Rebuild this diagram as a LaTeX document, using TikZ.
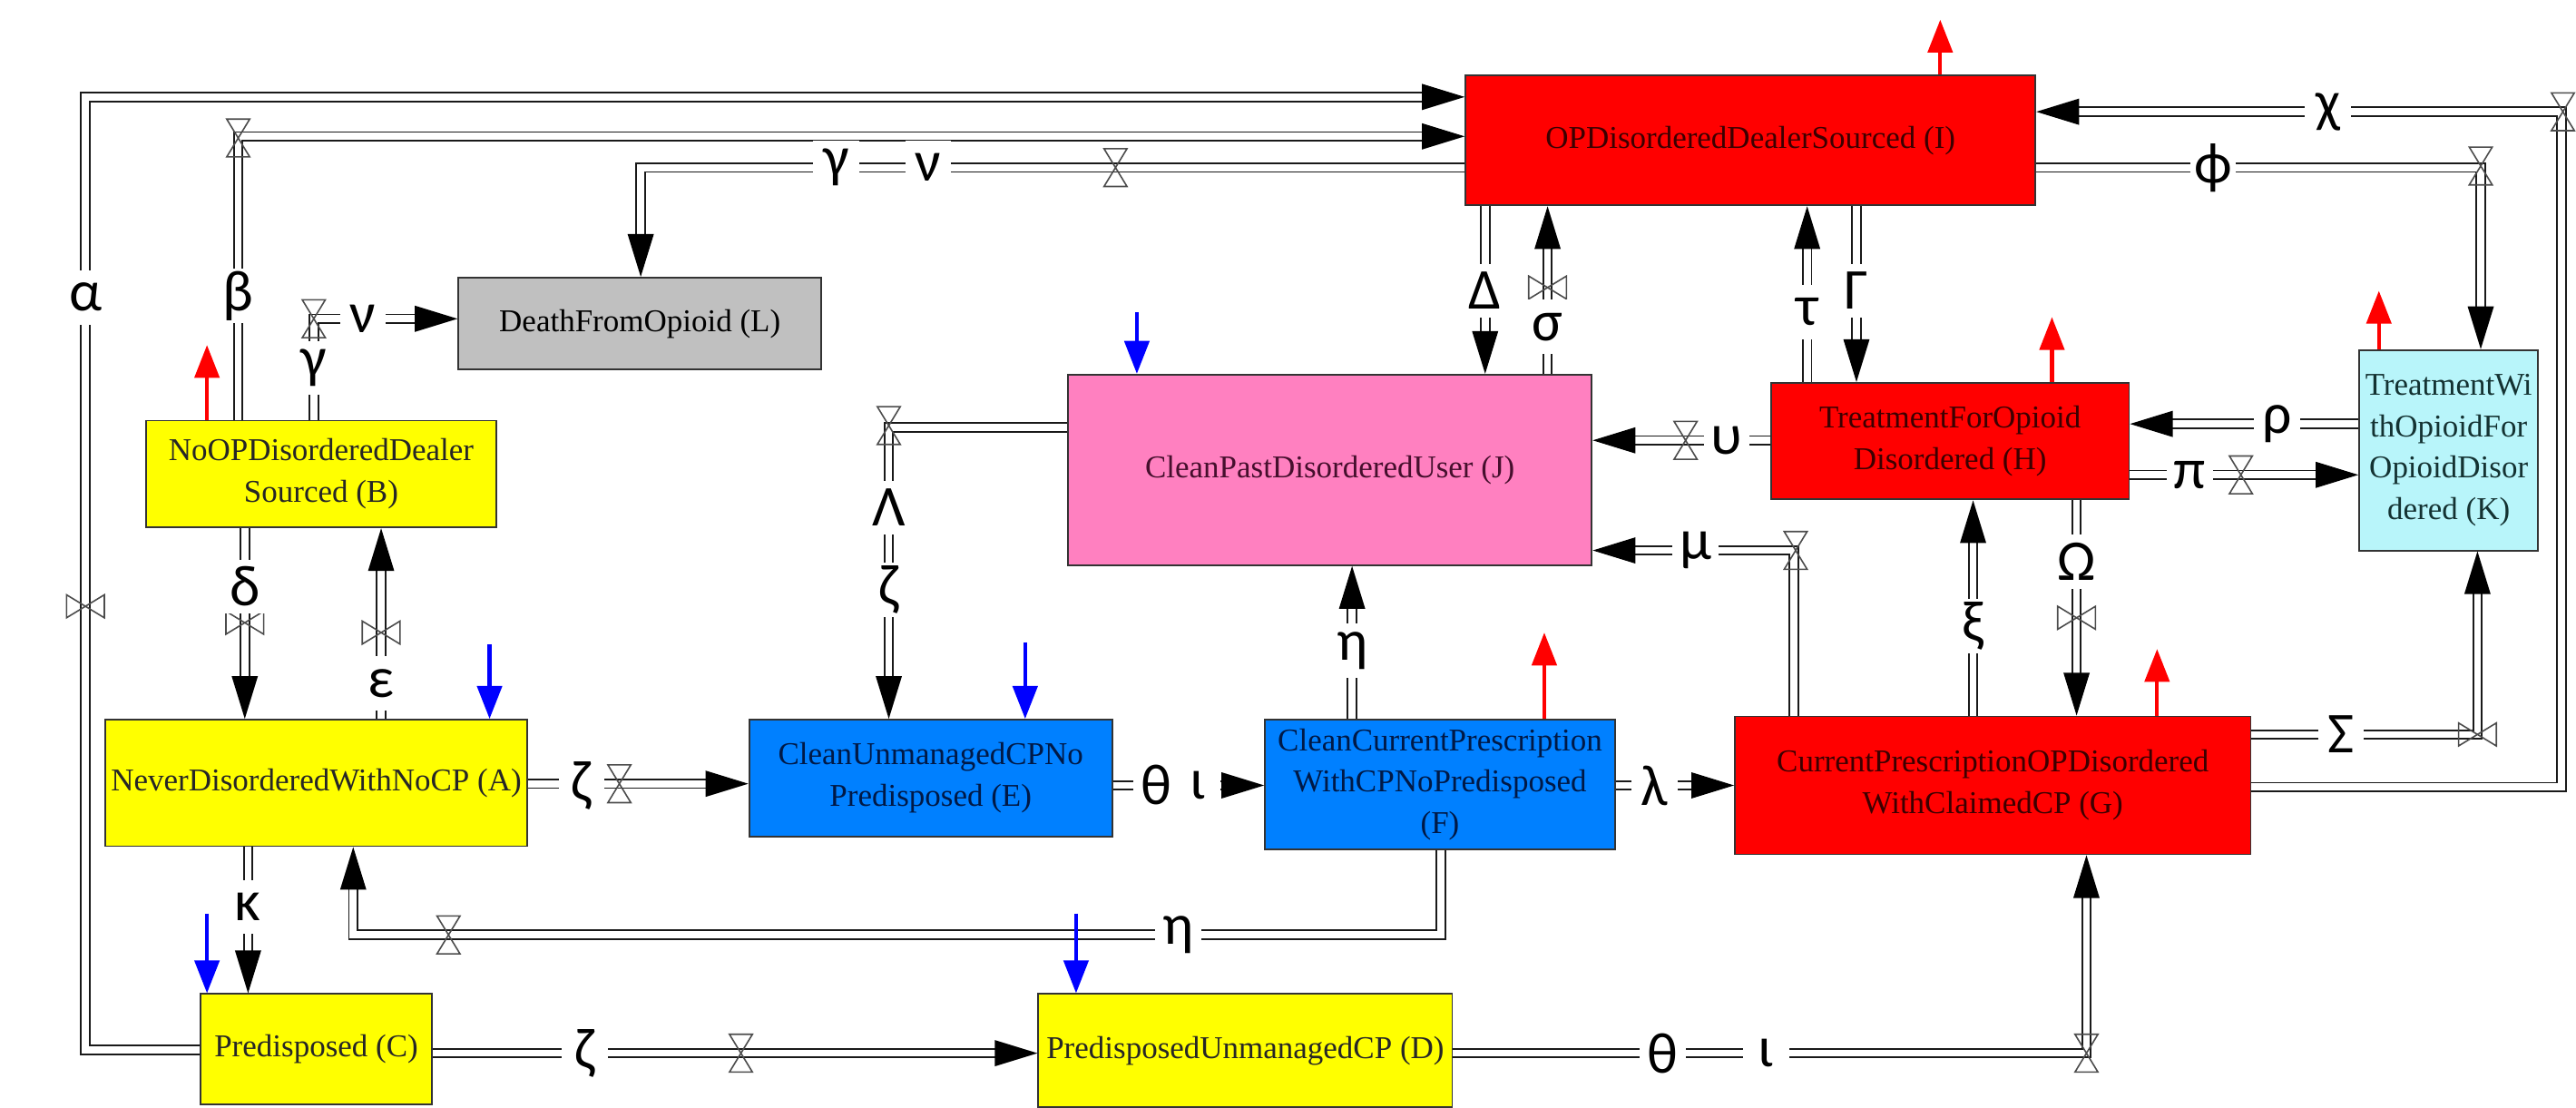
\documentclass[tikz,border=0pt]{standalone}
\usepackage{fontspec}
\setmainfont{Liberation Serif}
\newfontfamily\grk{Carlito}
\usetikzlibrary{arrows.meta,decorations.markings}
\definecolor{cred}{RGB}{255,0,0}
\definecolor{cyel}{RGB}{255,255,0}
\definecolor{cgray}{RGB}{192,192,192}
\definecolor{cpink}{RGB}{255,128,192}
\definecolor{cblue}{RGB}{0,128,255}
\definecolor{ccyan}{RGB}{184,245,250}
\definecolor{tred}{RGB}{60,0,0}
\definecolor{tblue}{RGB}{0,25,70}
\definecolor{tpink}{RGB}{70,15,45}
\definecolor{tcyan}{RGB}{20,50,50}
\begin{document}
\begin{tikzpicture}[x=0.02cm,y=-0.02cm,
  stock/.style={draw=black!80, line width=0.6pt, inner sep=1pt, align=center,
    font=\fontsize{11}{14.4}\selectfont},
  pipe/.style={draw=black!90, line width=0.6pt, double=white, double distance=0.085cm, line join=miter},
  flow/.style={pipe, shorten >=0.5cm, postaction={decorate},
    decoration={markings, mark=at position 1 with {\fill[black] (0pt,0pt) -- (-0.52cm,0.16cm) -- (-0.52cm,-0.16cm) -- cycle;}}},
  lbl/.style={fill=white, inner sep=0pt, minimum width=0.56cm, minimum height=0.66cm,
    font=\grk\fontsize{20}{20}\selectfont},
  valvest/.style={draw=black!70, line width=0.5pt},
  valveH/.pic={\draw[valvest] (-7,-11.5) -- (7,-11.5) -- (-7,11.5) -- (7,11.5) -- cycle;},
  valveV/.pic={\draw[valvest] (-11.5,-7) -- (-11.5,7) -- (11.5,-7) -- (11.5,7) -- cycle;},
  outarr/.style={draw=red, line width=1.3pt, -{Triangle[length=0.4cm,width=0.3cm]}},
  inarr/.style={draw=blue, line width=1.3pt, -{Triangle[length=0.4cm,width=0.3cm]}}
]
\useasboundingbox (0,0) rectangle (1568,674);

% ---------------- stocks ----------------
\node[stock, fill=cred, text=tred, minimum width=6.94cm, minimum height=1.58cm] (I) at (1065.5,85.5) {OPDisorderedDealerSourced (I)};
\node[stock, fill=cgray, text=black, minimum width=4.42cm, minimum height=1.12cm] (L) at (389.5,197) {DeathFromOpioid (L)};
\node[stock, fill=cyel, text=black!85, minimum width=4.26cm, minimum height=1.30cm] (B) at (195.5,288.5) {NoOPDisorderedDealer\\Sourced (B)};
\node[stock, fill=cpink, text=tpink, minimum width=6.38cm, minimum height=2.32cm] (J) at (809.5,286) {CleanPastDisorderedUser (J)};
\node[stock, fill=cred, text=tred, minimum width=4.36cm, minimum height=1.42cm] (H) at (1187,268.5) {TreatmentForOpioid\\Disordered (H)};
\node[stock, fill=ccyan, text=tcyan, minimum width=2.18cm, minimum height=2.44cm] (K) at (1490.5,274) {TreatmentWi\\thOpioidFor\\OpioidDisor\\dered (K)};
\node[stock, fill=cyel, text=black!85, minimum width=5.14cm, minimum height=1.54cm] (A) at (192.5,476.5) {NeverDisorderedWithNoCP (A)};
\node[stock, fill=cblue, text=tblue, minimum width=4.42cm, minimum height=1.42cm] (E) at (566.5,473.5) {CleanUnmanagedCPNo\\Predisposed (E)};
\node[stock, fill=cblue, text=tblue, minimum width=4.26cm, minimum height=1.58cm] (F) at (876.5,477.5) {CleanCurrentPrescription\\WithCPNoPredisposed\\(F)};
\node[stock, fill=cred, text=tred, minimum width=6.28cm, minimum height=1.68cm] (G) at (1213,478) {CurrentPrescriptionOPDisordered\\WithClaimedCP (G)};
\node[stock, fill=cyel, text=black!85, minimum width=2.82cm, minimum height=1.34cm] (C) at (192.5,638.5) {Predisposed (C)};
\node[stock, fill=cyel, text=black!85, minimum width=5.04cm, minimum height=1.38cm] (D) at (758,639.5) {PredisposedUnmanagedCP (D)};

% ---------------- flows ----------------
\draw[flow] (C.west |- 0,639) -- (52,639) -- (52,59) -- (I.west |- 0,59);          % alpha
\draw[flow] (B.north -| 145,0) -- (145,83) -- (I.west |- 0,83);                    % beta
\draw[flow] (I.west |- 0,102) -- (390,102) -- (L.north -| 390,0);                  % gamma nu
\draw[flow] (B.north -| 191,0) -- (191,194) -- (L.west |- 0,194);                  % gamma nu small
\draw[flow] (B.south -| 149,0) -- (A.north -| 149,0);                              % delta
\draw[flow] (A.north -| 232,0) -- (B.south -| 232,0);                              % epsilon
\draw[flow] (A.south -| 151,0) -- (C.north -| 151,0);                              % kappa
\draw[flow] (F.south -| 877,0) -- (877,569) -- (215,569) -- (A.south -| 215,0);    % eta F->A
\draw[flow] (A.east |- 0,477) -- (E.west |- 0,477);                                % zeta A->E
\draw[flow] (E.east |- 0,478) -- (F.west |- 0,478);                                % theta iota
\draw[flow] (F.east |- 0,478) -- (G.west |- 0,478);                                % lambda
\draw[flow] (F.north -| 823,0) -- (J.south -| 823,0);                              % eta F->J
\draw[flow] (C.east |- 0,641) -- (D.west |- 0,641);                                % zeta C->D
\draw[flow] (D.east |- 0,641) -- (1270,641) -- (G.south -| 1270,0);                % theta iota D->G
\draw[flow] (J.west |- 0,260) -- (541,260) -- (E.north -| 541,0);                  % Lambda zeta
\draw[flow] (I.south -| 904,0) -- (J.north -| 904,0);                              % Delta
\draw[flow] (J.north -| 942,0) -- (I.south -| 942,0);                              % sigma
\draw[flow] (H.north -| 1100,0) -- (I.south -| 1100,0);                            % tau
\draw[flow] (I.south -| 1130,0) -- (H.north -| 1130,0);                            % Gamma
\draw[flow] (H.west |- 0,268) -- (J.east |- 0,268);                                % upsilon
\draw[flow] (G.north -| 1092,0) -- (1092,335) -- (J.east |- 0,335);                % mu
\draw[flow] (G.north -| 1201,0) -- (H.south -| 1201,0);                            % xi
\draw[flow] (H.south -| 1264,0) -- (G.north -| 1264,0);                            % Omega
\draw[flow] (K.west |- 0,258) -- (H.east |- 0,258);                                % rho
\draw[flow] (H.east |- 0,289) -- (K.west |- 0,289);                                % pi
\draw[flow] (G.east |- 0,447) -- (1508,447) -- (K.south -| 1508,0);                % Sigma
\draw[flow] (I.east |- 0,102) -- (1510,102) -- (K.north -| 1510,0);                % phi
\draw[flow] (G.east |- 0,479) -- (1559,479) -- (1559,68) -- (I.east |- 0,68);      % chi

% ---------------- valves ----------------
\foreach \p in {(52,369),(149,379),(232,385),(942,175),(1264,376),(1508,447)}
  \pic at \p {valveV};
\foreach \p in {(145,84),(679,102),(191,194),(377,477),(273,569),(451,641),(1270,641),(541,259),(1026,268),(1093,335),(1364,289),(1510,101),(1560,68)}
  \pic at \p {valveH};

% ---------------- labels ----------------
\node[lbl] (lalpha) at (52,181) {α};
\node[lbl] (lbeta) at (145,180) {β};
\node[lbl] (lgamma1) at (509,102) {γ};
\node[lbl] (lnu1) at (565,102) {ν};
\node[lbl] (lgamma2) at (191,224) {γ};
\node[lbl] (lnu2) at (221,194) {ν};
\node[lbl] (ldelta) at (149,357) {δ};
\node[lbl] (leps) at (232,416) {ε};
\node[lbl] (lkappa) at (151,552) {κ};
\node[lbl] (lzeta1) at (354,478) {ζ};
\node[lbl] (ltheta1) at (704,478) {θ};
\node[lbl] (liota1) at (729,478) {ι};
\node[lbl] (llambda) at (1007,478) {λ};
\node[lbl] (leta1) at (823,396) {η};
\node[lbl] (leta2) at (717,569) {η};
\node[lbl] (lzeta2) at (356,641) {ζ};
\node[lbl] (ltheta2) at (1012,641) {θ};
\node[lbl] (liota2) at (1075,641) {ι};
\node[lbl] (lLambda) at (541,309) {Λ};
\node[lbl] (lzeta3) at (541,359) {ζ};
\node[lbl] (lDelta) at (904,177) {Δ};
\node[lbl] (lsigma) at (942,199) {σ};
\node[lbl] (ltau) at (1100,190) {τ};
\node[lbl] (lGamma) at (1130,177) {Γ};
\node[lbl] (lups) at (1051,268) {υ};
\node[lbl] (lmu) at (1032,335) {μ};
\node[lbl] (lxi) at (1201,381) {ξ};
\node[lbl] (lOmega) at (1264,342) {Ω};
\node[lbl] (lrho) at (1386,258) {ρ};
\node[lbl] (lpi) at (1333,289) {π};
\node[lbl] (lSigma) at (1425,447) {Σ};
\node[lbl] (lphi) at (1347,102) {ϕ};
\node[lbl] (lchi) at (1417,68) {χ};

% ---------------- red / blue arrows ----------------
\coordinate (rI) at (1181,12);  \draw[outarr] (I.north -| 1181,0) -- (rI);
\coordinate (rB) at (126,210);  \draw[outarr] (B.north -| 126,0) -- (rB);
\coordinate (rH) at (1249,193); \draw[outarr] (H.north -| 1249,0) -- (rH);
\coordinate (rK) at (1448,177); \draw[outarr] (K.north -| 1448,0) -- (rK);
\coordinate (rF) at (940,385);  \draw[outarr] (F.north -| 940,0) -- (rF);
\coordinate (rG) at (1313,395); \draw[outarr] (G.north -| 1313,0) -- (rG);
\coordinate (bJ) at (692,190);  \draw[inarr] (bJ) -- (J.north -| 692,0);
\coordinate (bA) at (298,392);  \draw[inarr] (bA) -- (A.north -| 298,0);
\coordinate (bE) at (624,391);  \draw[inarr] (bE) -- (E.north -| 624,0);
\coordinate (bC) at (126,556);  \draw[inarr] (bC) -- (C.north -| 126,0);
\coordinate (bD) at (655,556);  \draw[inarr] (bD) -- (D.north -| 655,0);
\end{tikzpicture}
\end{document}
